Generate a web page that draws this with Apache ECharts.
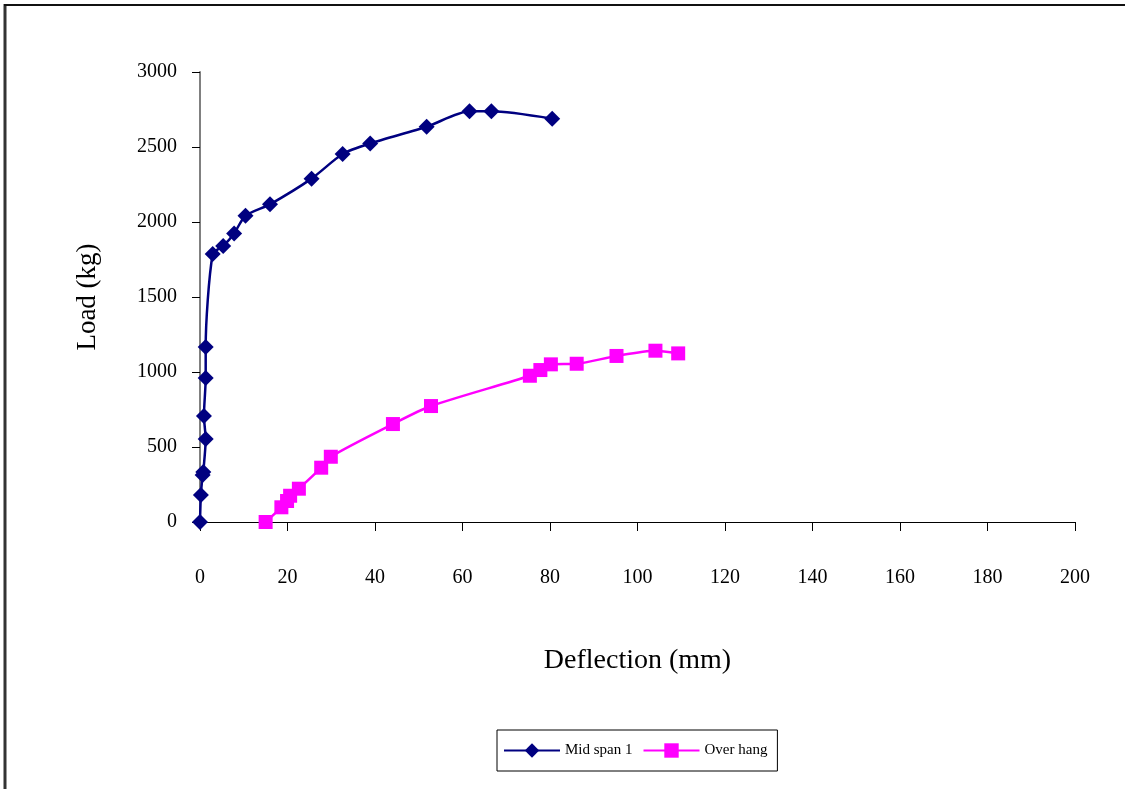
<!DOCTYPE html>
<html>
<head>
<meta charset="utf-8">
<script src="https://cdn.jsdelivr.net/npm/echarts@6/dist/echarts.min.js"></script>
<style>
  html, body { margin: 0; padding: 0; background: #fff; }
  #chart { width: 1125px; height: 789px; }
</style>
</head>
<body>
<div id="chart"></div>
<script>
// Load–deflection readings: [deflection (mm), load (kg)]
const midSpanDeflection = [0, 0.2, 0.6, 0.75, 1.3, 0.9, 1.3, 1.3, 2.9, 5.3, 7.8, 10.4, 16.0, 25.5, 32.6, 38.9, 51.8, 61.6, 66.6, 80.5];
const midSpanLoad       = [0, 180, 313, 333, 553, 707, 960, 1167, 1787, 1840, 1924, 2042, 2118, 2289, 2453, 2524, 2635, 2738, 2738, 2689];

const overHangDeflection = [15.0, 18.6, 19.9, 20.6, 22.6, 27.7, 29.9, 44.1, 52.8, 75.4, 77.8, 80.2, 86.1, 95.2, 104.1, 109.3];
const overHangLoad       = [0, 98, 140, 175, 222, 362, 435, 653, 773, 975, 1013, 1051, 1055, 1107, 1142, 1124];

const seriesNames = ['Mid span 1', 'Over hang'];
const xAxisTitle = 'Deflection (mm)';
const yAxisTitle = 'Load (kg)';

const pair = (xs, ys) => xs.map((x, i) => [x, ys[i]]);

const serif = '"Liberation Serif", "Times New Roman", serif';
const chart = echarts.init(document.getElementById('chart'), null, { renderer: 'canvas' });

chart.setOption({
  backgroundColor: '#ffffff',
  animation: false,
  textStyle: { fontFamily: serif, color: '#000' },
  graphic: [
    // outer chart frame (left and top edges)
    { type: 'line', shape: { x1: 5, y1: 4, x2: 5, y2: 789 }, style: { stroke: '#333', lineWidth: 3 }, z: 100 },
    { type: 'line', shape: { x1: 4, y1: 5, x2: 1125, y2: 5 }, style: { stroke: '#111', lineWidth: 2 }, z: 100 }
  ],
  grid: { left: 200, right: 50, top: 72, bottom: 267, containLabel: false },
  legend: {
    left: 497, top: 730,
    orient: 'horizontal',
    itemWidth: 56, itemHeight: 18, itemGap: 10,
    padding: [13, 10, 13, 6],
    borderColor: '#000', borderWidth: 1,
    textStyle: { fontFamily: serif, fontSize: 15, color: '#000' },
    data: seriesNames
  },
  xAxis: {
    type: 'value', min: 0, max: 200, interval: 20,
    name: xAxisTitle, nameLocation: 'middle', nameGap: 125,
    nameTextStyle: { fontFamily: serif, fontSize: 28, color: '#000' },
    axisLine: { onZero: false, lineStyle: { color: '#000', width: 1 } },
    axisTick: { show: true, inside: false, length: 9, lineStyle: { color: '#000' } },
    axisLabel: { margin: 46, fontFamily: serif, fontSize: 20, color: '#000' },
    splitLine: { show: false }
  },
  yAxis: {
    type: 'value', min: 0, max: 3000, interval: 500,
    name: yAxisTitle, nameLocation: 'middle', nameGap: 99,
    nameTextStyle: { fontFamily: serif, fontSize: 27, color: '#000' },
    axisLine: { show: true, lineStyle: { color: '#808080', width: 2 } },
    axisTick: { show: true, inside: false, length: 8, lineStyle: { color: '#000' } },
    axisLabel: { margin: 23, fontFamily: serif, fontSize: 20, color: '#000', formatter: v => String(v) },
    splitLine: { show: false }
  },
  series: [
    {
      name: seriesNames[0], type: 'line',
      data: pair(midSpanDeflection, midSpanLoad),
      smooth: 0.25,
      symbol: 'diamond', symbolSize: 16,
      lineStyle: { color: '#000080', width: 2.5 },
      itemStyle: { color: '#000080' },
      z: 3
    },
    {
      name: seriesNames[1], type: 'line',
      data: pair(overHangDeflection, overHangLoad),
      smooth: 0.25,
      symbol: 'rect', symbolSize: 14,
      lineStyle: { color: '#ff00ff', width: 2.5 },
      itemStyle: { color: '#ff00ff' },
      z: 2
    }
  ]
});
</script>
</body>
</html>
